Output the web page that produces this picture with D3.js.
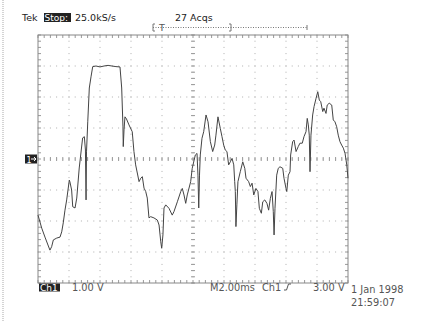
<!DOCTYPE html>
<html>
<head>
<meta charset="utf-8">
<script src="https://cdn.jsdelivr.net/npm/d3@7"></script>
<style>
  body { margin: 0; background: #fff; }
  text { font-family: "DejaVu Sans", sans-serif; }
</style>
</head>
<body>
<script>
// scope trace: time in ms, level in volts (1 V/div, 2 ms/div)
var timeMs = [0, 0.24, 0.45, 0.77, 0.88, 0.99, 1.21, 1.42, 1.53, 1.63, 1.74, 1.85, 2.02, 2.06, 2.17, 2.24,
  2.39, 2.50, 2.66, 2.88, 2.99, 3.06, 3.10, 3.13, 3.21, 3.31, 3.42, 3.53, 3.74, 4.00, 4.26, 4.52,
  4.77, 5.03, 5.29, 5.40, 5.48, 5.50, 5.55, 5.61, 5.71, 5.87, 6.08, 6.19, 6.30, 6.52, 6.63, 6.73,
  6.84, 6.95, 7.05, 7.16, 7.27, 7.48, 7.70, 7.81, 7.92, 7.98, 8.06, 8.13, 8.24, 8.45, 8.66, 8.77,
  8.99, 9.21, 9.31, 9.42, 9.53, 9.63, 9.85, 9.95, 10.15, 10.26, 10.32, 10.37, 10.42, 10.47, 10.58, 10.69,
  10.84, 10.97, 11.12, 11.27, 11.40, 11.48, 11.61, 11.76, 11.87, 11.98, 12.08, 12.19, 12.30, 12.41, 12.52, 12.63,
  12.69, 12.73, 12.77, 12.83, 12.90, 13.05, 13.21, 13.34, 13.42, 13.59, 13.70, 13.81, 13.92, 14.06, 14.19, 14.28,
  14.41, 14.50, 14.63, 14.77, 14.88, 14.99, 15.10, 15.18, 15.23, 15.29, 15.40, 15.50, 15.61, 15.79, 15.87, 16.00,
  16.05, 16.15, 16.26, 16.30, 16.43, 16.52, 16.65, 16.79, 16.90, 17.05, 17.16, 17.29, 17.37, 17.44, 17.50, 17.55,
  17.61, 17.72, 17.81, 17.94, 18.05, 18.15, 18.24, 18.37, 18.45, 18.58, 18.66, 18.79, 18.95, 19.05, 19.16, 19.27,
  19.37, 19.48, 19.59, 19.70, 19.81, 19.92, 20.0];
var volts = [-1.81, -2.23, -2.52, -2.94, -2.83, -2.61, -2.55, -2.52, -2.35, -2.06, -1.65, -1.32, -0.68, -0.74, -1.00, -1.54,
  -1.58, -1.26, -0.29, 0.68, 0.72, 0.29, -1.32, 0.23, 1.20, 2.29, 2.65, 2.98, 3.00, 2.97, 3.00, 3.02,
  3.00, 2.98, 2.97, 2.29, 1.06, 0.40, 0.94, 1.36, 1.29, 1.10, 0.88, 0.24, -0.19, -0.73, -0.62, -0.57,
  -0.94, -1.05, -1.26, -1.90, -1.86, -1.90, -1.97, -2.13, -2.67, -2.88, -2.45, -1.58, -1.48, -1.59, -1.81, -1.70,
  -1.38, -1.05, -0.95, -1.16, -1.43, -1.16, -0.73, -0.30, 0.13, 0.18, -0.52, -1.58, -0.52, 0.13, 0.67, 0.88,
  1.42, 1.20, 0.56, 0.24, 0.45, 0.77, 1.36, 0.99, 0.72, 0.45, 0.29, 0.24, -0.19, -0.09, 0.02, -0.19,
  -0.73, -1.05, -2.18, -1.48, -0.73, -0.41, -0.09, -0.30, -0.62, -0.73, -0.89, -0.78, -1.16, -0.95, -1.05, -1.59,
  -1.75, -1.38, -1.32, -1.43, -1.65, -1.27, -1.05, -1.70, -2.45, -1.59, -0.52, -0.30, -0.25, -0.30, -0.62, -0.95,
  -1.05, -0.52, -0.41, 0.13, 0.56, 0.61, 0.24, 0.40, 0.51, 0.51, 0.72, 0.88, 1.31, 1.10, 0.77, -0.41,
  0.77, 1.42, 1.69, 1.96, 2.17, 1.90, 1.85, 1.53, 1.64, 1.47, 1.74, 1.80, 1.74, 1.26, 1.20, 1.04,
  0.77, 0.56, 0.45, 0.35, 0.18, -0.19, -0.62];

var headerLabels = ['Tek', 'Stop:', '25.0kS/s', '27 Acqs'];
var footerLabels = ['Ch1', '1.00 V', 'M2.00ms', 'Ch1', '3.00 V', '1 Jan 1998', '21:59:07'];

var W = 430, H = 322;
var svg = d3.select('body').append('svg').attr('width', W).attr('height', H);

var x = d3.scaleLinear().domain([0, 20]).range([38, 348]);
var y = d3.scaleLinear().domain([-4, 4]).range([283, 35]);

var majorT = d3.range(2, 20, 2), majorV = d3.range(-3, 4, 1);
var minorT = d3.range(0, 20.01, 0.4), minorV = d3.range(-4, 4.01, 0.2);

// faint scan strip on the left edge
svg.append('line')
  .attr('x1', 3).attr('x2', 3).attr('y1', 0).attr('y2', H)
  .attr('stroke', '#d4d4d4').attr('stroke-width', 2).attr('stroke-dasharray', '1,1');

var grid = svg.append('g').attr('fill', '#b0b0b0');

// dotted graticule
majorT.forEach(function(t) {
  grid.selectAll(null).data(minorV).enter().append('rect')
    .attr('x', x(t) - 0.5).attr('y', function(v) { return y(v) - 0.5; })
    .attr('width', 1).attr('height', 1);
});
majorV.forEach(function(v) {
  grid.selectAll(null).data(minorT).enter().append('rect')
    .attr('x', function(t) { return x(t) - 0.5; }).attr('y', y(v) - 0.5)
    .attr('width', 1).attr('height', 1);
});

var ticks = svg.append('g').attr('stroke', '#999').attr('stroke-width', 1);

// centre cross ticks
ticks.selectAll(null).data(minorT).enter().append('line')
  .attr('x1', function(t) { return x(t); }).attr('x2', function(t) { return x(t); })
  .attr('y1', y(0) - 2).attr('y2', y(0) + 2);
ticks.selectAll(null).data(minorV).enter().append('line')
  .attr('x1', x(10) - 2).attr('x2', x(10) + 2)
  .attr('y1', function(v) { return y(v); }).attr('y2', function(v) { return y(v); });

// frame edge ticks
ticks.selectAll(null).data(minorT).enter().append('line')
  .attr('x1', function(t) { return x(t); }).attr('x2', function(t) { return x(t); })
  .attr('y1', y(4)).attr('y2', y(4) + 3);
ticks.selectAll(null).data(minorT).enter().append('line')
  .attr('x1', function(t) { return x(t); }).attr('x2', function(t) { return x(t); })
  .attr('y1', y(-4)).attr('y2', y(-4) - 3);
ticks.selectAll(null).data(minorV).enter().append('line')
  .attr('x1', x(0)).attr('x2', x(0) + 3)
  .attr('y1', function(v) { return y(v); }).attr('y2', function(v) { return y(v); });
ticks.selectAll(null).data(minorV).enter().append('line')
  .attr('x1', x(20)).attr('x2', x(20) - 3)
  .attr('y1', function(v) { return y(v); }).attr('y2', function(v) { return y(v); });

// frame
svg.append('rect')
  .attr('x', x(0)).attr('y', y(4))
  .attr('width', x(20) - x(0)).attr('height', y(-4) - y(4))
  .attr('fill', 'none').attr('stroke', '#888').attr('stroke-width', 1);

// trace
var data = timeMs.map(function(t, i) { return { t: t, v: volts[i] }; });
var line = d3.line()
  .x(function(d) { return x(d.t); })
  .y(function(d) { return y(d.v); });
svg.append('path')
  .datum(data)
  .attr('d', line)
  .attr('fill', 'none')
  .attr('stroke', '#444')
  .attr('stroke-width', 1)
  .attr('stroke-linejoin', 'round');

// ground marker
svg.append('rect').attr('x', 25).attr('y', y(0) - 4.5).attr('width', 12).attr('height', 9).attr('fill', '#222');
svg.append('text').attr('x', 26.5).attr('y', y(0) + 3.5).attr('font-size', 8).attr('fill', '#fff').text('1');
svg.append('path')
  .attr('d', 'M31,' + y(0) + 'H36M34,' + (y(0) - 2) + 'L36,' + y(0) + 'L34,' + (y(0) + 2))
  .attr('stroke', '#fff').attr('fill', 'none');

// trigger position bar
var bar = svg.append('g').attr('stroke', '#777').attr('fill', 'none');
bar.append('line').attr('x1', 153).attr('x2', 307).attr('y1', 27.5).attr('y2', 27.5).attr('stroke-dasharray', '1,1.5');
bar.append('path').attr('d', 'M155,24H153V31H155');
bar.append('path').attr('d', 'M229,24H231V31H229');
bar.append('path').attr('d', 'M307,25V30');
svg.append('text').attr('x', 162).attr('y', 31).attr('font-size', 9.5).attr('fill', '#555').attr('text-anchor', 'middle').text('T');

// header text
var head = svg.append('g').attr('font-size', 9.5).attr('fill', '#222');
head.append('text').attr('x', 22).attr('y', 20.5).text(headerLabels[0]);
head.append('rect').attr('x', 44).attr('y', 13).attr('width', 27).attr('height', 9).attr('fill', '#222');
head.append('text').attr('x', 44.5).attr('y', 20.5).attr('fill', '#fff').attr('font-size', 9).text(headerLabels[1]);
head.append('text').attr('x', 75).attr('y', 20.5).text(headerLabels[2]);
head.append('text').attr('x', 175).attr('y', 20.5).text(headerLabels[3]);

// footer text
var foot = svg.append('g').attr('font-size', 9.8).attr('fill', '#555');
foot.append('rect').attr('x', 39).attr('y', 283.5).attr('width', 21).attr('height', 8).attr('fill', '#222');
foot.append('text').attr('x', 40).attr('y', 290.5).attr('fill', '#fff').attr('font-size', 9).text(footerLabels[0]);
foot.append('text').attr('x', 72).attr('y', 290.5).text(footerLabels[1]);
foot.append('text').attr('x', 210).attr('y', 290.5).text(footerLabels[2]);
foot.append('text').attr('x', 262).attr('y', 290.5).text(footerLabels[3]);
foot.append('path').attr('d', 'M284,290H286.5L288.5,284H291').attr('stroke', '#555').attr('fill', 'none');
foot.append('text').attr('x', 313).attr('y', 290.5).text(footerLabels[4]);
foot.append('text').attr('x', 351).attr('y', 293).text(footerLabels[5]);
foot.append('text').attr('x', 351).attr('y', 306).text(footerLabels[6]);
</script>
</body>
</html>
